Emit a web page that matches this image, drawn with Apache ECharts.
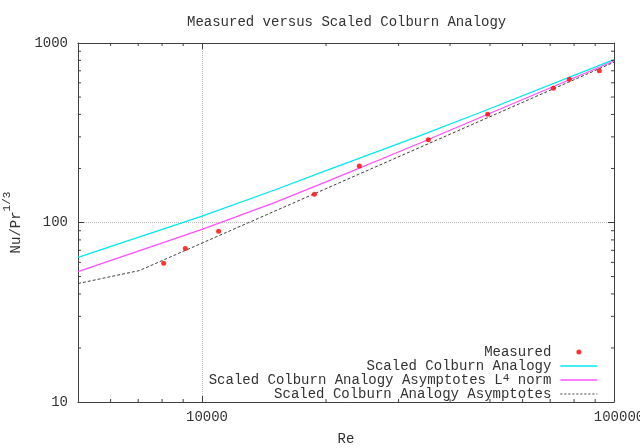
<!DOCTYPE html>
<html><head><meta charset="utf-8">
<script src="https://cdn.jsdelivr.net/npm/echarts@6/dist/echarts.min.js"></script>
<style>html,body{margin:0;padding:0;background:#fff}#c{width:640px;height:448px}</style>
</head><body><div id="c"></div>
<script>
// ---- data ----
const measuredRe = [8070, 9110, 10970, 18740, 24090, 35430, 49370, 71230, 77900, 92100];
const measuredNu = [59.3, 71.6, 89.4, 143.6, 206.4, 289.3, 400.7, 559.4, 627.7, 701];

const colburnRe = [5000, 10000, 15000, 20000, 33850, 47310, 100000];
const colburnNu = [63.9, 108.4, 151.7, 194.4, 304.5, 410, 809];

const l4Re = [5000, 7000, 10000, 15000, 20000, 33850, 47310, 100000];
const l4Nu = [53.3, 69.3, 91.6, 129.2, 168.4, 277.3, 384.6, 793.6];

const asymRe = [5000, 7050, 100000];
const asymNu = [45.7, 54.0, 781.6];

const xMinorTicks = [6000, 7000, 8000, 9000, 20000, 30000, 40000, 50000, 60000, 70000, 80000, 90000];
const yMinorTicks = [20, 30, 40, 50, 60, 70, 80, 90, 200, 300, 400, 500, 600, 700, 800, 900];

const xMin = 5000, xMax = 100000, yMin = 10, yMax = 1000;

const names = ['Measured', 'Scaled Colburn Analogy', 'Scaled Colburn Analogy Asymptotes L4 norm', 'Scaled Colburn Analogy Asymptotes'];
const titleText = 'Measured versus Scaled Colburn Analogy';

// ---- chart ----
const FONT = "'Liberation Mono', 'DejaVu Sans Mono', monospace";
const TXT = '#333';
const AX = '#404040';
const zip = (a, b) => a.map((v, i) => [v, b[i]]);

const chart = echarts.init(document.getElementById('c'), null, {renderer: 'canvas'});

function axisBase(extra) {
  return Object.assign({
    type: 'log', logBase: 10,
    axisLine: {show: true, lineStyle: {color: AX, width: 1}},
    axisTick: {show: true, inside: true, length: 6, lineStyle: {color: AX, width: 1}},
    minorTick: {show: false},
    splitLine: {show: false},
  }, extra);
}

function minorTickSeries(values, isX) {
  return {
    type: 'custom', silent: true, clip: false, z: 5,
    xAxisIndex: 0, yAxisIndex: 0,
    data: values.map(v => isX ? [v, yMin] : [xMin, v]),
    encode: {x: 0, y: 1},
    renderItem: function (params, api) {
      const v = api.value(isX ? 0 : 1);
      const st = {stroke: AX, lineWidth: 1};
      if (isX) {
        const b = api.coord([v, yMin]);
        const t = api.coord([v, yMax]);
        return {type: 'group', children: [
          {type: 'line', shape: {x1: b[0], y1: b[1], x2: b[0], y2: b[1] - 3}, style: st},
          {type: 'line', shape: {x1: t[0], y1: t[1], x2: t[0], y2: t[1] + 3}, style: st}
        ]};
      } else {
        const l = api.coord([xMin, v]);
        const r = api.coord([xMax, v]);
        return {type: 'group', children: [
          {type: 'line', shape: {x1: l[0], y1: l[1], x2: l[0] + 3, y2: l[1]}, style: st},
          {type: 'line', shape: {x1: r[0], y1: r[1], x2: r[0] - 3, y2: r[1]}, style: st}
        ]};
      }
    }
  };
}

const option = {
  animation: false,
  backgroundColor: '#fff',
  title: {
    text: titleText, left: 187, top: 15, padding: 0,
    textStyle: {fontFamily: FONT, fontSize: 14, fontWeight: 'normal', color: TXT, lineHeight: 14}
  },
  grid: {left: 78, right: 26, top: 43, bottom: 46, containLabel: false, outerBoundsMode: 'none'},
  legend: {
    orient: 'vertical', right: 37, top: 340, align: 'right',
    itemWidth: 37, itemHeight: 5, itemGap: 0, selectedMode: false,
    data: [
      {name: names[0]},
      {name: names[1], itemStyle: {opacity: 0}, lineStyle: {width: 1.3}},
      {name: names[2], itemStyle: {opacity: 0}, lineStyle: {width: 1.3}},
      {name: names[3], itemStyle: {opacity: 0}, lineStyle: {width: 1, type: [2, 2]}}
    ],
    textStyle: {
      fontFamily: FONT, fontSize: 14, color: TXT, lineHeight: 14, padding: [0, 4, 0, 0],
      rich: {
        t: {fontFamily: FONT, fontSize: 14, color: TXT, lineHeight: 14},
        s: {fontFamily: FONT, fontSize: 11, color: TXT, lineHeight: 6, verticalAlign: 'top'}
      }
    },
    formatter: function (name) {
      if (name === names[2]) return '{t|Scaled Colburn Analogy Asymptotes L}{s|4}{t| norm}';
      return name;
    }
  },
  xAxis: [
    axisBase({
      position: 'bottom', min: xMin, max: xMax,
      axisLabel: {fontFamily: FONT, fontSize: 14, color: TXT, margin: 8, showMinLabel: false,
        padding: [0, 0, 0, 10], formatter: v => String(v)},
      splitLine: {show: true, lineStyle: {type: 'dotted', color: '#bcbcbc', width: 1}},
      name: 'Re', nameLocation: 'middle', nameGap: 30,
      nameTextStyle: {fontFamily: FONT, fontSize: 14, color: TXT, lineHeight: 14}
    }),
    axisBase({position: 'top', min: xMin, max: xMax, axisLabel: {show: false}})
  ],
  yAxis: [
    axisBase({
      position: 'left', min: yMin, max: yMax,
      axisLabel: {fontFamily: FONT, fontSize: 14, color: TXT, margin: 10, formatter: v => String(v)},
      splitLine: {show: true, lineStyle: {type: 'dotted', color: '#bcbcbc', width: 1}},
      name: '{t|Nu/Pr}{s|1/3}', nameLocation: 'middle', nameGap: 54, nameRotate: 90,
      nameTextStyle: {
        fontFamily: FONT, fontSize: 14, color: TXT, lineHeight: 22,
        rich: {
          t: {fontFamily: FONT, fontSize: 14, color: TXT, lineHeight: 22, verticalAlign: 'bottom'},
          s: {fontFamily: FONT, fontSize: 11, color: TXT, lineHeight: 10, verticalAlign: 'top'}
        }
      }
    }),
    axisBase({position: 'right', min: yMin, max: yMax, axisLabel: {show: false}})
  ],
  series: [
    {
      name: names[0], type: 'scatter', data: zip(measuredRe, measuredNu),
      symbol: 'circle', symbolSize: 5, itemStyle: {color: '#ff0000'}, z: 10
    },
    {
      name: names[1], type: 'line', data: zip(colburnRe, colburnNu), symbol: 'none',
      lineStyle: {color: '#00e8f0', width: 1.3}, itemStyle: {color: '#00e8f0'}
    },
    {
      name: names[2], type: 'line', data: zip(l4Re, l4Nu), symbol: 'none',
      lineStyle: {color: '#ff50ff', width: 1.3}, itemStyle: {color: '#ff50ff'}
    },
    {
      name: names[3], type: 'line', data: zip(asymRe, asymNu), symbol: 'none',
      lineStyle: {color: '#404040', width: 1, type: [3, 2]}, itemStyle: {color: '#404040'}
    },
    minorTickSeries(xMinorTicks, true),
    minorTickSeries(yMinorTicks, false)
  ]
};
chart.setOption(option);
</script>
</body></html>
